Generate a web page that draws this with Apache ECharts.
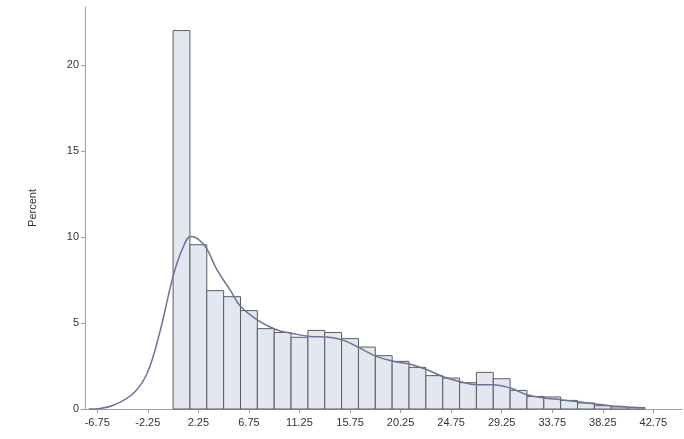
<!DOCTYPE html>
<html>
<head>
<meta charset="utf-8">
<script src="https://cdn.jsdelivr.net/npm/echarts@6/dist/echarts.min.js"></script>
<style>html,body{margin:0;padding:0;background:#fff}#c{width:684px;height:439px}</style>
</head>
<body>
<div id="c"></div>
<script>
// Histogram bins (midpoints) and percent values
const binMids = [0.75, 2.25, 3.75, 5.25, 6.75, 8.25, 9.75, 11.25, 12.75, 14.25, 15.75, 17.25, 18.75, 20.25,
  21.75, 23.25, 24.75, 26.25, 27.75, 29.25, 30.75, 32.25, 33.75, 35.25, 36.75, 38.25, 39.75, 41.25];
const binWidth = 1.5;
const percents = [22.0, 9.55, 6.88, 6.53, 5.72, 4.67, 4.45, 4.17, 4.57, 4.45, 4.09, 3.6, 3.1, 2.77,
  2.42, 1.94, 1.8, 1.53, 2.13, 1.76, 1.08, 0.73, 0.7, 0.5, 0.35, 0.19, 0.12, 0.09];
// Density curve
const curveX = [-7.5, -6.5, -5.2, -3.5, -2.3, -1.2, 0.0, 0.8, 1.6, 2.8, 3.9, 5.1, 6.0, 7.7, 9.2, 10.7, 12.2,
  13.7, 15.2, 16.6, 18.1, 19.9, 21.1, 22.6, 24.1, 25.5, 27.0, 28.5, 30.0, 31.5, 33.0, 34.5, 35.9, 37.4, 38.9, 40.4, 41.9];
const curveY = [0.0, 0.03, 0.25, 0.93, 2.09, 4.42, 7.71, 9.26, 10.03, 9.5, 8.1, 6.9, 5.97, 5.09, 4.61, 4.38, 4.22,
  4.19, 3.99, 3.55, 3.06, 2.73, 2.6, 2.28, 1.86, 1.6, 1.41, 1.41, 1.22, 0.83, 0.64, 0.54, 0.44, 0.31, 0.19, 0.12, 0.06];
const xTicks = [-6.75, -2.25, 2.25, 6.75, 11.25, 15.75, 20.25, 24.75, 29.25, 33.75, 38.25, 42.75];
const yTicks = [0, 5, 10, 15, 20];

const barData = binMids.map((m, i) => [m - binWidth / 2, m + binWidth / 2, percents[i]]);
const curveData = curveX.map((x, i) => [x, curveY[i]]);

const chart = echarts.init(document.getElementById('c'));
const font = 'Liberation Sans, Arial, sans-serif';
chart.setOption({
  animation: false,
  grid: {left: 85, right: 2, top: 7, bottom: 30},
  xAxis: {
    type: 'value', min: -7.84, max: 45.3,
    axisLine: {show: true, onZero: false, lineStyle: {color: '#a0a0a0'}},
    axisTick: {show: true, length: 4, lineStyle: {color: '#a0a0a0'}, customValues: xTicks},
    axisLabel: {customValues: xTicks, color: '#333', fontSize: 11, fontFamily: font, margin: 8,
      formatter: v => v.toFixed(2)},
    splitLine: {show: false}
  },
  yAxis: {
    type: 'value', min: 0, max: 23.37,
    name: 'Percent', nameLocation: 'middle', nameGap: 47, nameRotate: 90,
    nameTextStyle: {color: '#333', fontSize: 11, fontFamily: font},
    axisLine: {show: true, onZero: false, lineStyle: {color: '#a0a0a0'}},
    axisTick: {show: true, length: 4, lineStyle: {color: '#a0a0a0'}, customValues: yTicks},
    axisLabel: {customValues: yTicks, color: '#333', fontSize: 11, fontFamily: font, margin: 6},
    splitLine: {show: false}
  },
  series: [
    {
      type: 'custom',
      data: barData,
      encode: {x: [0, 1], y: 2},
      renderItem: function (params, api) {
        const p0 = api.coord([api.value(0), 0]);
        const p1 = api.coord([api.value(1), api.value(2)]);
        return {
          type: 'rect',
          shape: {x: p0[0], y: p1[1], width: p1[0] - p0[0], height: p0[1] - p1[1]},
          style: {fill: '#e4e7f2', stroke: '#5c5c5c', lineWidth: 1}
        };
      },
      z: 2
    },
    {
      type: 'line',
      data: curveData,
      smooth: 0.4,
      showSymbol: false,
      lineStyle: {color: '#6b7499', width: 1.5},
      z: 3
    }
  ]
});
</script>
</body>
</html>
